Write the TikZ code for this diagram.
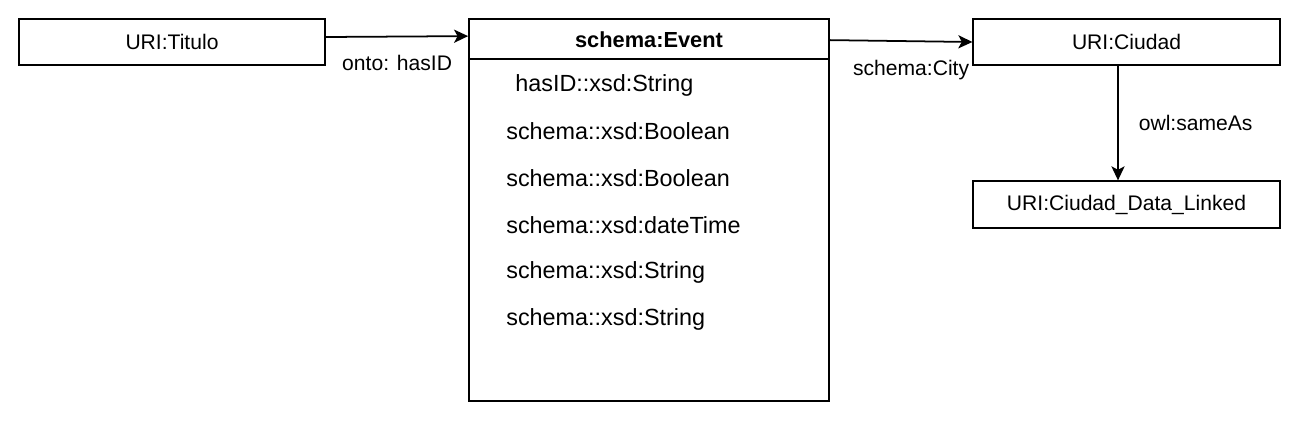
\documentclass[tikz,border=0pt]{standalone}
\usepackage{fontspec}
\setmainfont{Liberation Sans}
\usetikzlibrary{arrows.meta}

\begin{document}
\begin{tikzpicture}[
    box/.style={draw, line width=1pt, minimum width=6.13cm, minimum height=0.93cm, inner sep=0pt},
    arrow/.style={-{Stealth[length=8pt, width=7.5pt, inset=2pt]}, line width=1pt},
    attr/.style={anchor=west, inner sep=0pt, font=\fontsize{13.3}{16}\selectfont},
    every node/.style={font=\fontsize{12}{14}\selectfont}
]
\useasboundingbox (0,0) rectangle (25.98,-8.4);

% Titulo
\node[box] (tit) at (3.44, -0.84) {URI:Titulo};

% Event class
\node[draw, line width=1pt, minimum width=7.2cm, minimum height=7.64cm, inner sep=0pt] (ev) at (12.98, -4.2) {};
\node[font=\fontsize{12.4}{14}\selectfont\bfseries] (evtitle) at (12.98, -0.8) {schema:Event};
\draw[line width=1pt] ([yshift=-0.82cm]ev.north west) -- ([yshift=-0.82cm]ev.north east);
\coordinate (evin) at ([yshift=-0.36cm]ev.north west);

% Attributes
\node[attr] (a1) at (10.30, -1.70) {hasID::xsd:String};
\node[attr] (a2) at (10.12, -2.63) {schema::xsd:Boolean};
\node[attr] (a3) at (10.12, -3.57) {schema::xsd:Boolean};
\node[attr] (a4) at (10.12, -4.51) {schema::xsd:dateTime};
\node[attr] (a5) at (10.12, -5.45) {schema::xsd:String};
\node[attr] (a6) at (10.12, -6.38) {schema::xsd:String};

% Ciudad
\node[box] (ciu) at (22.53, -0.84) {URI:Ciudad};

% Linked data
\node[box] (link) at (22.53, -4.09) {URI:Ciudad\_Data\_Linked};

% Arrows
\draw[arrow] ([yshift=0.1cm]tit.east) -- (evin) node[midway, below=7pt] {onto: hasID};
\draw[arrow] ([yshift=-0.44cm]ev.north east) -- (ciu.west) node[pos=0.57, below=7pt] {schema:City};
\draw[arrow] ([xshift=-0.17cm]ciu.south) -- ([xshift=-0.17cm]link.north) node[midway, right=8pt] {owl:sameAs};

\end{tikzpicture}
\end{document}
